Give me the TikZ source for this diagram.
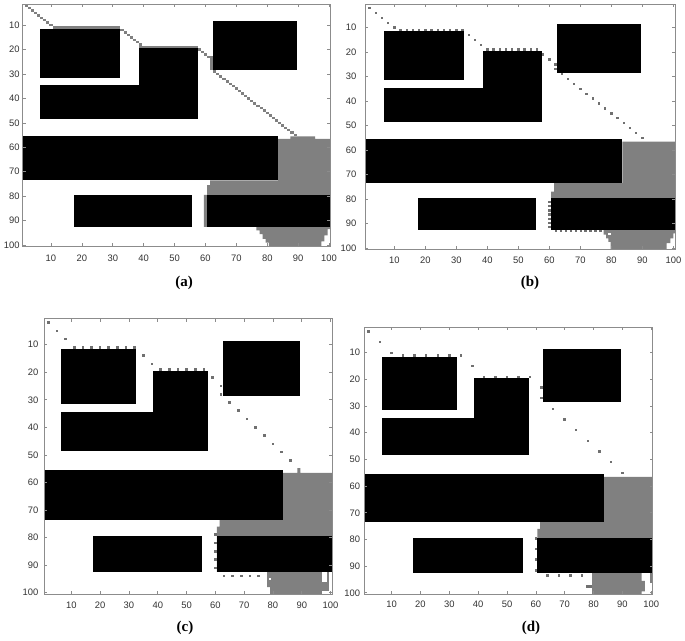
\documentclass[tikz,border=0pt]{standalone}
\usepackage{fontspec}
\setmainfont{Liberation Serif}
\newfontfamily\axfont{Liberation Sans}
\definecolor{regiongray}{RGB}{128,128,128}
\definecolor{dotgray}{RGB}{112,112,112}
\tikzset{
  axline/.style={draw=black!45, line width=0.6pt},
  ticklab/.style={font=\axfont\fontsize{9.4}{10}\selectfont, text=black!80, inner sep=0pt},
  caption/.style={font=\bfseries\fontsize{15}{17}\selectfont, inner sep=0pt},
  obst/.style={fill=black},
  region/.style={fill=regiongray},
}
\newcommand\obstacles{%
  \fill[obst] (6.5,11.5) rectangle (32.5,31.5);
  \fill[obst] (38.5,19.5) rectangle (57.5,48.5);
  \fill[obst] (6.5,34.5) rectangle (57.5,48.5);
  \fill[obst] (62.5,8.5) rectangle (89.5,28.5);
  \fill[obst] (0.5,55.5) rectangle (83.5,73.5);
  \fill[obst] (17.5,79.5) rectangle (55.5,92.5);
  \fill[obst] (60.5,79.5) rectangle (100.5,92.5);
}
\newcommand\pdot[2]{\fill[dotgray] ({#1-\dw},{#2-\dh}) rectangle ({#1+\dw},{#2+\dh});}
\newcommand\wdot[2]{\fill[white] ({#1-\dw},{#2-\dh}) rectangle ({#1+\dw},{#2+\dh});}
\newcommand\pcell[2]{\fill[regiongray] ({#1-0.5},{#2-0.5}) rectangle ({#1+0.5},{#2+0.5});}
% #1 c0, #2 r0, #3 c1, #4 r1, #5 ylabel gap, #6 xlabel gap, #7 name prefix
\newcommand\panelaxes[7]{%
  \draw[axline] (#1,#2) rectangle (#3,#4);
  \foreach \v in {10,20,...,100}{
    \draw[axline] (\v,#2) -- ++(0,-3pt);
    \draw[axline] (\v,#4) -- ++(0,3pt);
    \draw[axline] (#1,\v) -- ++(3pt,0);
    \draw[axline] (#3,\v) -- ++(-3pt,0);
    \node[ticklab,anchor=east] (#7y\v) at ([xshift=-#5pt]#1,\v) {\v};
    \node[ticklab,anchor=center] (#7x\v) at ([yshift=-#6pt]\v,#4) {\v};
  }
}
\begin{document}
\begin{tikzpicture}[x=1pt,y=-1pt]
\fill[white] (0,0) rectangle (685,640);
\useasboundingbox (0,0) rectangle (685,640);

% ---------------- panel (a)
\begin{scope}[xshift=20.055pt, yshift=-0.678pt, x=3.09pt, y=-2.444pt]
  \begin{scope}
    \clip (0.86,1.36) rectangle (100.3,100.5);
    \fill[region] (83.5,56.5) -- (87.5,56.5) -- (87.5,55.5) -- (95.5,55.5) -- (95.5,56.5)
      -- (100.5,56.5) -- (100.5,93.5) -- (99.5,93.5) -- (99.5,96) -- (98.5,96) -- (98.5,98.5)
      -- (97.5,98.5) -- (97.5,100.5) -- (80.5,100.5) -- (80.5,99) -- (79.5,99) -- (79.5,97.5)
      -- (78.5,97.5) -- (78.5,95.5) -- (77.5,95.5) -- (77.5,94) -- (76.5,94) -- (76.5,92.5)
      -- (59.5,92.5) -- (59.5,79.5) -- (60.5,79.5) -- (60.5,75.5) -- (61.5,75.5) -- (61.5,73.5)
      -- (83.5,73.5) -- cycle;
    \foreach \k in {2,...,10} {\pcell{\k}{\k}}
    \fill[region] (10.5,10.5) rectangle (32.5,11.5);
    \foreach \k in {1,...,7} {\pcell{32+\k}{11+\k}}
    \fill[region] (38.5,18.5) rectangle (57.5,19.5);
    \foreach \k in {1,...,4} {\pcell{57+\k}{19+\k}}
    \fill[region] (61.5,22.5) rectangle (62.5,28.5);
    \foreach \k in {1,...,27} {\pcell{62+\k}{28+\k}}
    \obstacles
  \end{scope}
  \panelaxes{0.86}{1.36}{100.3}{100.5}{3}{11.7}{pa}
\end{scope}

% ---------------- panel (b)
\begin{scope}[xshift=363.45pt, yshift=-3.075pt, x=3.10pt, y=-2.45pt]
  \def\dw{0.4}\def\dh{0.48}
  \begin{scope}
    \clip (0.5,0.4) rectangle (100.5,100.5);
    \fill[region] (83.5,56.5) -- (100.5,56.5) -- (100.5,94) -- (100,94) -- (100,96) -- (99,96)
      -- (99,98) -- (97.8,98) -- (97.8,100.5) -- (79.7,100.5) -- (79.7,97.5) -- (79,97.5)
      -- (79,96) -- (78.3,96) -- (78.3,94.5) -- (77.5,94.5) -- (77.5,92.5) -- (60.5,92.5)
      -- (60.5,77) -- (61.5,77) -- (61.5,73.5) -- (83.5,73.5) -- cycle;
    \obstacles
    \foreach \k in {2,4,...,10} {\pdot{\k}{\k}}
    \foreach \c in {12,14,...,32} {\pdot{\c}{11}}
    \pdot{34}{13}\pdot{36}{15}\pdot{38}{17}
    \foreach \c in {40,42,...,56} {\pdot{\c}{19}}
    \pdot{58}{21}\pdot{60}{23}\pdot{62}{25}\pdot{62}{27}
    \foreach \k in {0,...,13} {\pdot{64+2*\k}{29+2*\k}}
    \foreach \k in {0,...,6} {\pdot{60}{81.2+1.72*\k}}
    \foreach \k in {0,...,9} {\pdot{62.1+1.6*\k}{93}}
    \wdot{79.4}{94.3}
  \end{scope}
  \panelaxes{0.5}{0.4}{100.5}{100.5}{8.5}{10.7}{pb}
\end{scope}

% ---------------- panel (c)
\begin{scope}[xshift=42.56pt, yshift=-317.1225pt, x=2.88pt, y=-2.755pt]
  \def\dw{0.46}\def\dh{0.48}
  \begin{scope}
    \clip (0.5,0.5) rectangle (100.5,100.5);
    \fill[region] (83.5,56.5) -- (88.5,56.5) -- (88.5,54.8) -- (89.5,54.8) -- (89.5,56.5)
      -- (100.5,56.5) -- (100.5,92.5) -- (60.5,92.5) -- (60.5,76) -- (61.5,76) -- (61.5,73.5)
      -- (83.5,73.5) -- cycle;
    \fill[region] (78,92.5) -- (97,92.5) -- (97,100.5) -- (79,100.5) -- (79,98) -- (78,98) -- cycle;
    \fill[region] (97,96.3) rectangle (99.6,99.5);
    \fill[region] (98.7,92.5) rectangle (99.6,96.3);
    \obstacles
    \foreach \k in {2,5,8} {\pdot{\k}{\k}}
    \foreach \c in {11,14,...,32} {\pdot{\c}{11}}
    \pdot{35}{14}\pdot{38}{17}
    \foreach \c in {41,44,...,56} {\pdot{\c}{19}}
    \pdot{59}{22}\pdot{62}{25}\pdot{62}{28}
    \foreach \k in {0,...,7} {\pdot{65+3*\k}{31+3*\k}}
    \foreach \r in {79,82,...,91} {\pdot{60}{\r}}
    \foreach \c in {63,66,...,75} {\pdot{\c}{94}}
    \wdot{79}{95}
  \end{scope}
  \panelaxes{0.5}{0.5}{100.5}{100.5}{5.5}{11}{pc}
\end{scope}

% ---------------- panel (d)
\begin{scope}[xshift=362.7575pt, yshift=-326.0665pt, x=2.885pt, y=-2.667pt]
  \def\dw{0.43}\def\dh{0.46}
  \begin{scope}
    \clip (0.5,0.5) rectangle (100.5,100.5);
    \fill[region] (83.5,56.5) -- (100.5,56.5) -- (100.5,92.5) -- (60.5,92.5) -- (60.5,76)
      -- (61.5,76) -- (61.5,73.5) -- (83.5,73.5) -- cycle;
    \fill[region] (79.5,92.5) -- (96.7,92.5) -- (96.7,95.5) -- (97.8,95.5) -- (97.8,99.5)
      -- (96.7,99.5) -- (96.7,100.5) -- (79.5,100.5) -- cycle;
    \fill[region] (99.6,92.5) rectangle (100.5,96.4);
    \obstacles
    \foreach \k in {2,6,10} {\pdot{\k}{\k}}
    \foreach \c in {14,18,...,34} {\pdot{\c}{11}}
    \pdot{38}{15}
    \foreach \c in {42,46,...,58} {\pdot{\c}{19}}
    \pdot{62}{23}\pdot{62}{27}
    \foreach \k in {0,...,6} {\pdot{66+4*\k}{31+4*\k}}
    \foreach \k in {0,...,3} {\pdot{60}{79.6+4*\k}}
    \foreach \c in {64,68,72,76} {\pdot{\c}{93.6}}
    \fill[dotgray] (77.4,97.2) rectangle (79.6,98.1);
  \end{scope}
  \panelaxes{0.5}{0.5}{100.5}{100.5}{4}{10.5}{pd}
\end{scope}

% ---------------- captions
\node[caption] (capa) at (184,283) {(a)};
\node[caption] (capb) at (530,283) {(b)};
\node[caption] (capc) at (185,628) {(c)};
\node[caption] (capd) at (531,628) {(d)};
\end{tikzpicture}
\end{document}
